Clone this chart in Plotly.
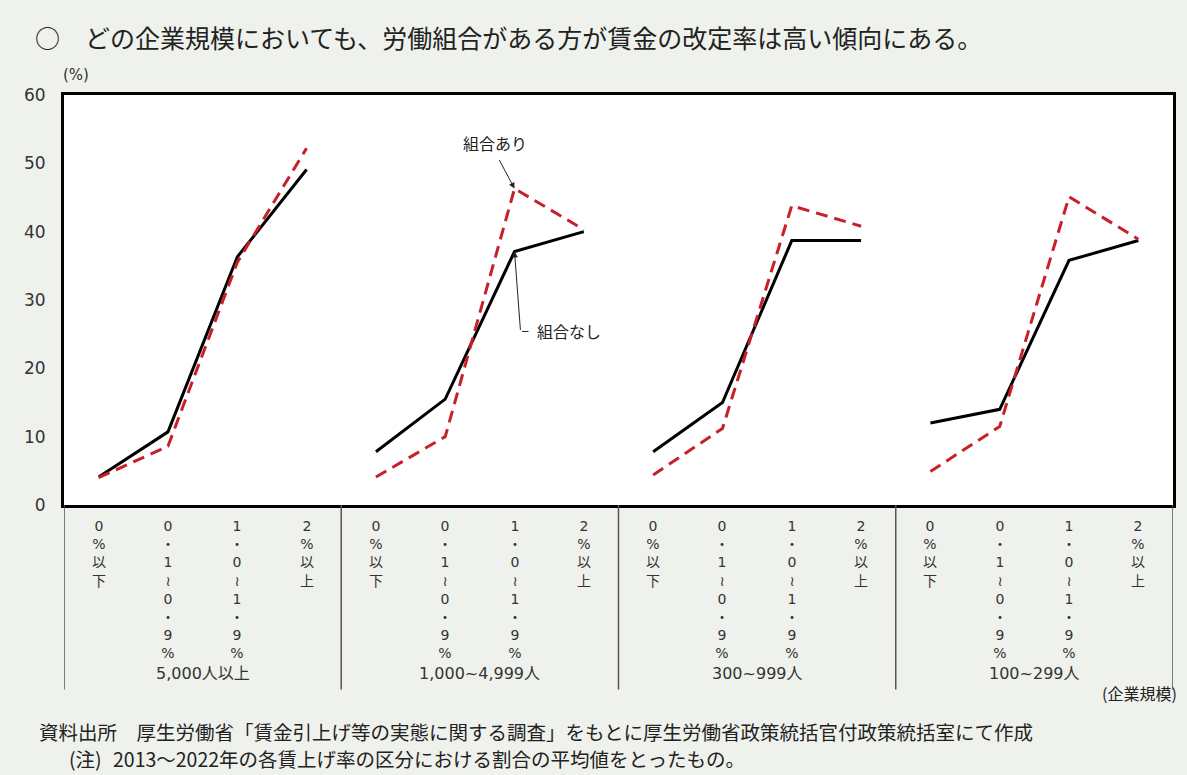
import plotly.graph_objects as go

# ---- data ----
categories = ["0%以下", "0.1~0.9%", "1.0~1.9%", "2%以上"]
groups = ["5,000人以上", "1,000~4,999人", "300~999人", "100~299人"]
union_yes = [  # 組合あり
    [4.0, 8.6, 35.5, 52.2],
    [4.1, 10.0, 46.3, 40.3],
    [4.4, 11.2, 43.8, 40.8],
    [4.9, 11.5, 45.1, 38.9],
]
union_no = [  # 組合なし
    [4.1, 10.7, 36.3, 49.1],
    [7.8, 15.5, 37.1, 40.0],
    [7.8, 15.0, 38.7, 38.7],
    [12.0, 14.0, 35.8, 38.7],
]
y_ticks = [0, 10, 20, 30, 40, 50, 60]

title_text = "○　どの企業規模においても、労働組合がある方が賃金の改定率は高い傾向にある。"
source_text = "資料出所　厚生労働省「賃金引上げ等の実態に関する調査」をもとに厚生労働省政策統括官付政策統括室にて作成"
note_label = "(注)"
note_text = "2013～2022年の各賃上げ率の区分における割合の平均値をとったもの。"

BG = "rgb(239,241,236)"
RED = "rgb(200,32,42)"
JP = "Noto Sans CJK JP"
NUM = "DejaVu Sans, Noto Sans CJK JP"

ncat = len(categories)


def series_xy(values):
    xs, ys = [], []
    for g, vals in enumerate(values):
        for c, v in enumerate(vals):
            xs.append(g * ncat + c)
            ys.append(v)
        xs.append(None)
        ys.append(None)
    return xs, ys


fig = go.Figure()
xn, yn = series_xy(union_no)
xy, yy = series_xy(union_yes)
fig.add_trace(go.Scatter(x=xn, y=yn, mode="lines", name="組合なし",
                         line=dict(color="black", width=3), connectgaps=False))
fig.add_trace(go.Scatter(x=xy, y=yy, mode="lines", name="組合あり",
                         line=dict(color=RED, width=3, dash="12px,7px"), connectgaps=False))

ntot = ncat * len(groups)
fig.update_layout(
    width=1187, height=775,
    margin=dict(l=64, r=14, t=95, b=270),
    paper_bgcolor=BG, plot_bgcolor="white",
    showlegend=False,
    font=dict(family=NUM, color="#333"),
    xaxis=dict(range=[-0.5, ntot - 0.5], showticklabels=False, showgrid=False,
               zeroline=False, showline=True, mirror=True, linecolor="black",
               linewidth=3, ticks=""),
    yaxis=dict(range=[0, 60], tickvals=y_ticks, showgrid=False, zeroline=False,
               showline=True, mirror=True, linecolor="black", linewidth=3,
               ticks="outside", ticklen=12, tickcolor="rgba(0,0,0,0)",
               tickfont=dict(size=17, color="#333", family=NUM)),
)

ann = []
# title & texts
ann.append(dict(text=title_text, xref="paper", yref="paper", x=-0.028, y=1.0,
                yshift=58, xanchor="left", yanchor="middle", showarrow=False,
                font=dict(family=JP, size=25, color="#222")))
ann.append(dict(text="(%)", xref="paper", yref="paper", x=-0.003, y=1.0, yshift=20,
                xanchor="left", yanchor="middle", showarrow=False,
                font=dict(family=NUM, size=15, color="#333")))
ann.append(dict(text="(企業規模)", xref="paper", yref="paper", x=1.0, y=0.0,
                yshift=-188, xshift=6, xanchor="right", yanchor="middle", showarrow=False,
                font=dict(family=JP, size=16, color="#222")))
ann.append(dict(text=source_text, xref="paper", yref="paper", x=-0.024, y=0.0,
                yshift=-226, xanchor="left", yanchor="middle", showarrow=False,
                font=dict(family=JP, size=19.5, color="#222")))
ann.append(dict(text=note_label, xref="paper", yref="paper", x=0.003, y=0.0,
                yshift=-253, xanchor="left", yanchor="middle", showarrow=False,
                font=dict(family=JP, size=19.5, color="#222")))
ann.append(dict(text=note_text, xref="paper", yref="paper", x=0.042, y=0.0,
                yshift=-253, xanchor="left", yanchor="middle", showarrow=False,
                font=dict(family=JP, size=19.5, color="#222")))

# vertical category labels (one character per line)
char_map = {"~": "≀", ".": "・"}
for g in range(len(groups)):
    for c, label in enumerate(categories):
        vtxt = "<br>".join(char_map.get(ch, ch) for ch in label)
        ann.append(dict(text=vtxt, x=g * ncat + c, xref="x",
                        yref="paper", y=0.0, yshift=-11, xanchor="center",
                        yanchor="top", showarrow=False,
                        font=dict(family=NUM, size=14, color="#333")))
    ann.append(dict(text=groups[g], x=g * ncat + (ncat - 1) / 2.0, xref="x",
                    yref="paper", y=0.0, yshift=-168, xanchor="center",
                    yanchor="middle", showarrow=False,
                    font=dict(family=NUM, size=16, color="#333")))

# callouts on the second group
gi = 1
px = gi * ncat + 2
ann.append(dict(text="", x=px, y=union_yes[gi][2], xref="x", yref="y",
                showarrow=True, ax=-16, ay=-30, arrowhead=2, arrowsize=1.2,
                arrowwidth=1, arrowcolor="#222"))
ann.append(dict(text="組合あり", x=px, y=union_yes[gi][2], xref="x", yref="y",
                xshift=-20, yshift=46, showarrow=False, xanchor="center", yanchor="middle",
                font=dict(family=JP, size=16, color="#222")))
ann.append(dict(text="", x=px, y=union_no[gi][2], xref="x", yref="y",
                showarrow=True, ax=6, ay=80, arrowhead=2, arrowsize=1.2,
                arrowwidth=1, arrowcolor="#222"))
ann.append(dict(text="", x=px, y=union_no[gi][2], xref="x", yref="y",
                xshift=14, yshift=-80, showarrow=True, ax=-8, ay=0, arrowhead=0,
                arrowwidth=1, arrowcolor="#222"))
ann.append(dict(text="組合なし", x=px, y=union_no[gi][2], xref="x", yref="y",
                xshift=20, yshift=-80, showarrow=False, xanchor="left", yanchor="middle",
                font=dict(family=JP, size=16, color="#222")))

fig.update_layout(annotations=ann)

# group separators below the axis
shapes = []
for g in range(len(groups) + 1):
    shapes.append(dict(type="line", xref="x", yref="paper",
                       x0=g * ncat - 0.5, x1=g * ncat - 0.5, y0=0, y1=-0.45,
                       line=dict(color="#555", width=1.5)))
fig.update_layout(shapes=shapes)

fig.write_html(
    "out.html",
    config={"displayModeBar": False},
    post_script="document.body.style.margin='0';document.body.style.overflow='hidden';"
                "document.body.style.background='" + BG + "';",
)
